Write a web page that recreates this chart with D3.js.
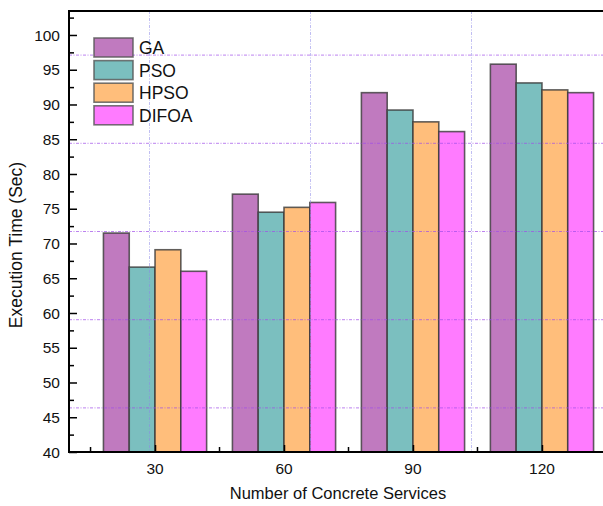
<!DOCTYPE html>
<html>
<head>
<meta charset="utf-8">
<script src="https://cdn.jsdelivr.net/npm/d3@7"></script>
<style>
  body { margin: 0; background: #fff; }
  svg { display: block; font-family: "Liberation Sans", Arial, sans-serif; }
</style>
</head>
<body>
<div id="chart"></div>
<script>
const categories = ["30", "60", "90", "120"];
const seriesNames = ["GA", "PSO", "HPSO", "DIFOA"];
const GA    = [71.5, 77.1, 91.7, 95.8];
const PSO   = [66.6, 74.5, 89.2, 93.1];
const HPSO  = [69.1, 75.2, 87.5, 92.1];
const DIFOA = [66.0, 75.9, 86.1, 91.7];
const yTicks = [40, 45, 50, 55, 60, 65, 70, 75, 80, 85, 90, 95, 100];
const colors = ["#C07ABF", "#7BBFBF", "#FFBE7B", "#FF7BFF"];

const seriesValues = [GA, PSO, HPSO, DIFOA];

const W = 603, H = 506;
const m = { left: 69, top: 11, right: 632, bottom: 452 };

const svg = d3.select("#chart").append("svg").attr("width", W).attr("height", H);

const x = d3.scalePoint().domain(categories).range([m.left, 628]).padding(0.667);
const step = x.step();
const inner = d3.scaleBand().domain(seriesNames).range([-0.4 * step, 0.4 * step]).paddingInner(0);
const y = d3.scaleLinear().domain([40, 103.45]).range([m.bottom, m.top]);

// bars
categories.forEach((c, ci) => {
  seriesNames.forEach((s, si) => {
    const v = seriesValues[si][ci];
    svg.append("rect")
      .attr("x", x(c) + inner(s))
      .attr("y", y(v))
      .attr("width", inner.bandwidth())
      .attr("height", y(40) - y(v))
      .attr("fill", colors[si])
      .attr("stroke", "#3a3a3a")
      .attr("stroke-opacity", 0.8)
      .attr("stroke-width", 1.6);
  });
});

// grid lines (drawn over bars, as in reference)
const plotH = m.bottom - m.top;
const hGrid = d3.range(5).map(i => m.top + (i + 0.5) * plotH / 5);
svg.selectAll(".hg").data(hGrid).enter().append("line")
  .attr("x1", m.left).attr("x2", W).attr("y1", d => d).attr("y2", d => d)
  .attr("stroke", "#a04de8").attr("stroke-opacity", 0.7).attr("stroke-width", 1)
  .attr("stroke-dasharray", "3,1.5,1,1.5");
const vStep = 161;
const vGrid = d3.range(4).map(i => m.left + (i + 0.5) * vStep);
svg.selectAll(".vg").data(vGrid).enter().append("line")
  .attr("y1", m.top).attr("y2", m.bottom).attr("x1", d => d).attr("x2", d => d)
  .attr("stroke", "#8c88e8").attr("stroke-opacity", 0.55).attr("stroke-width", 1)
  .attr("stroke-dasharray", "3,1.5,1,1.5");

// y axis (ticks inside)
const yAxis = d3.axisRight(y).tickValues(yTicks).tickSize(8).tickFormat("");
const gy = svg.append("g").attr("transform", `translate(${m.left},0)`).call(yAxis);
gy.select(".domain").remove();
gy.selectAll(".tick line").attr("stroke", "#000").attr("stroke-width", 1.5);
const yMinor = d3.axisRight(y).tickValues(d3.range(42.5, 103, 5)).tickSize(5).tickFormat("");
const gym = svg.append("g").attr("transform", `translate(${m.left},0)`).call(yMinor);
gym.select(".domain").remove();
gym.selectAll(".tick line").attr("stroke", "#000").attr("stroke-width", 1.5);

svg.selectAll(".ylab").data(yTicks).enter().append("text")
  .attr("x", 60).attr("y", d => y(d)).attr("dy", "0.36em")
  .attr("text-anchor", "end").attr("font-size", 15.5).attr("fill", "#111")
  .text(d => d);

// x axis (ticks inside)
const xAxis = d3.axisTop(x).tickSize(7).tickFormat("");
const gx = svg.append("g").attr("transform", `translate(0,${m.bottom})`).call(xAxis);
gx.select(".domain").remove();
gx.selectAll(".tick line").attr("stroke", "#000").attr("stroke-width", 1.5);
const minorX = categories.map(c => x(c) - step / 2);
svg.selectAll(".xm").data(minorX).enter().append("line")
  .attr("x1", d => d).attr("x2", d => d).attr("y1", m.bottom).attr("y2", m.bottom - 5)
  .attr("stroke", "#000").attr("stroke-width", 1.5);

svg.selectAll(".xlab").data(categories).enter().append("text")
  .attr("x", d => x(d)).attr("y", 474)
  .attr("text-anchor", "middle").attr("font-size", 15.5).attr("fill", "#111")
  .text(d => d);

// frame lines
svg.append("line").attr("x1", m.left).attr("x2", m.left).attr("y1", m.top - 1).attr("y2", m.bottom + 1)
  .attr("stroke", "#000").attr("stroke-width", 2);
svg.append("line").attr("x1", m.left - 1).attr("x2", W).attr("y1", m.bottom).attr("y2", m.bottom)
  .attr("stroke", "#000").attr("stroke-width", 2);
svg.append("line").attr("x1", m.left - 1).attr("x2", W).attr("y1", m.top).attr("y2", m.top)
  .attr("stroke", "#000").attr("stroke-width", 2);

// axis titles
svg.append("text").attr("x", 338).attr("y", 499).attr("text-anchor", "middle")
  .attr("font-size", 16.5).attr("fill", "#111").text("Number of Concrete Services");
svg.append("text").attr("transform", "translate(22,245) rotate(-90)").attr("text-anchor", "middle")
  .attr("font-size", 17.5).attr("fill", "#111").text("Execution Time (Sec)");

// legend
const lg = svg.append("g").attr("transform", "translate(94,38)");
seriesNames.forEach((s, i) => {
  const row = lg.append("g").attr("transform", `translate(0,${i * 22.6})`);
  row.append("rect").attr("width", 39).attr("height", 19)
    .attr("fill", colors[i]).attr("stroke", "#555").attr("stroke-opacity", 0.8).attr("stroke-width", 1.6);
  row.append("text").attr("x", 45).attr("y", 10).attr("dy", "0.36em")
    .attr("font-size", 17.5).attr("fill", "#111").text(s);
});
</script>
</body>
</html>
